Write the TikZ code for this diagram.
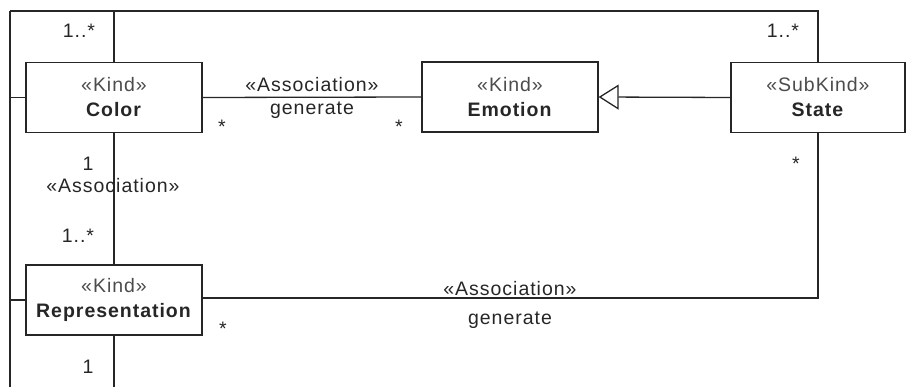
\documentclass[tikz,border=0pt]{standalone}
\usepackage{fontspec}
\setmainfont[LetterSpace=5]{Liberation Sans}
\usetikzlibrary{arrows.meta}
\newcommand\umlstereo[1]{{\color{black!70}«#1»}}
\begin{document}
\begin{tikzpicture}[x=1pt,y=-1pt,
  every node/.style={font=\fontsize{19.5}{25}\selectfont, text=black!85},
  cls/.style={draw=black!85, line width=1.3pt, fill=white, minimum width=176pt,
              minimum height=70pt, align=center, inner sep=0pt},
  lbl/.style={anchor=base, inner sep=0pt},
  conn/.style={draw=black!85, line width=1.3pt},
  gen/.style={conn, -{Triangle[open, length=20pt, width=25pt, fill=white]}},
]
\useasboundingbox (0,0) rectangle (906,387);

% classes
\node[cls] (color)  at (114,97.5) {\umlstereo{Kind}\\\textbf{Color}};
\node[cls] (emotion) at (510,97)  {\umlstereo{Kind}\\\textbf{Emotion}};
\node[cls, minimum width=174pt] (state) at (818,97.5) {\umlstereo{SubKind}\\\textbf{State}};
\node[cls] (repr)   at (114,300)  {\umlstereo{Kind}\\\textbf{Representation}};

% helper points for the outer routing
\coordinate (lc)  at (10,11);
\coordinate (top) at (114,11);
\coordinate (lb)  at (10,387);
\coordinate (rb)  at (114,387);

% connectors
\draw[conn] (lc) -- (top);
\draw[conn] (color.north) -- (top) -| (state.north);
\draw[conn] (lc) -- (lb);
\draw[conn] (color.west) -- (color.west -| lc);
\draw[conn] (repr.west) -- (repr.west -| lc);
\draw[conn] (color.east) -- (emotion.west);
\draw[gen] (state.west) -- (emotion.east);
\draw[conn] (state.south) |- ([yshift=2pt]repr.east);
\draw[conn] (color.south) -- (repr.north);
\draw[conn] (repr.south) -- (rb);

% multiplicities and association labels
\node[lbl] (m1) at (79,38)  {1..*};
\node[lbl] (m2) at (783,38) {1..*};
\node[lbl] (a1) at (312,92)  {«Association»};
\node[lbl] (g1) at (312,115) {generate};
\node[lbl] (s1) at (222,134) {*};
\node[lbl] (s2) at (399,134) {*};
\node[lbl] (s3) at (796,171) {*};
\node[lbl] (m3) at (88,171)  {1};
\node[lbl] (a2) at (113,193) {«Association»};
\node[lbl] (m4) at (78,243)  {1..*};
\node[lbl] (a3) at (510,296) {«Association»};
\node[lbl] (g3) at (510,325) {generate};
\node[lbl] (s4) at (223,336) {*};
\node[lbl] (m5) at (88,374)  {1};
\end{tikzpicture}
\end{document}
